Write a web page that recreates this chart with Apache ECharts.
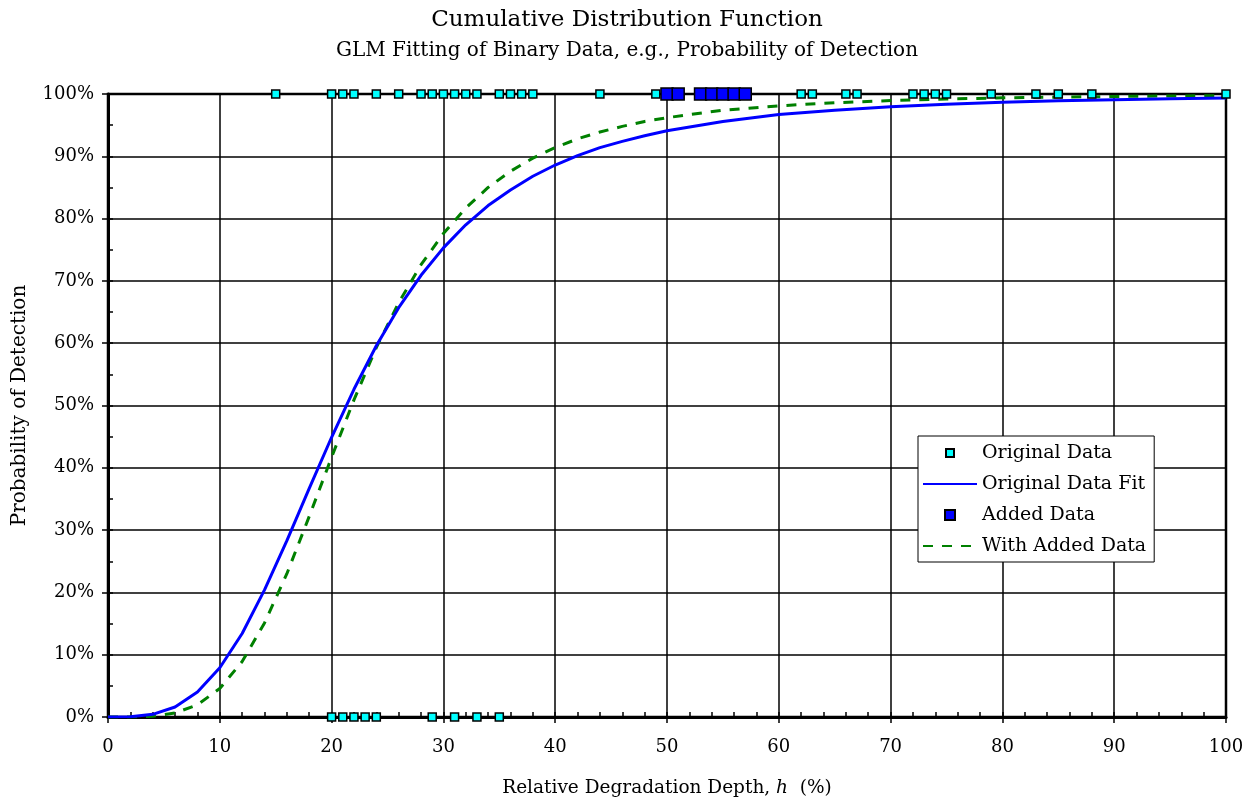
<!DOCTYPE html>
<html><head><meta charset="utf-8">
<script src="https://cdn.jsdelivr.net/npm/echarts@6/dist/echarts.min.js"></script>
<style>html,body{margin:0;padding:0;background:#fff}#c{width:1254px;height:803px}</style>
</head><body><div id="c"></div>
<script>
// Fitted curves (h in %, probability in %)
const fitH = [0,2,4,6,8,10,12,14,16,18,20,22,24,26,28,30,32,34,36,38,40,42,44,46,48,50,55,60,65,70,75,80,85,90,95,100];
const origFit = [0,0.05,0.43,1.6,4.0,7.9,13.4,20.4,28.3,36.7,44.9,52.6,59.6,65.7,70.9,75.3,79.0,82.1,84.6,86.8,88.6,90.1,91.4,92.4,93.3,94.1,95.6,96.7,97.4,97.95,98.36,98.66,98.9,99.08,99.23,99.35];
const addedFit = [0,0.01,0.13,0.65,1.96,4.57,8.9,15.1,23.0,32.2,41.7,50.9,59.3,66.5,72.6,77.6,81.7,85.0,87.6,89.7,91.4,92.8,93.9,94.8,95.6,96.2,97.4,98.1,98.6,98.95,99.2,99.38,99.51,99.6,99.68,99.74];
// Binary observations (h values)
const origDetected = [15,20,21,22,24,26,28,29,30,31,32,33,35,36,37,38,44,49,62,63,66,67,72,73,74,75,79,83,85,88,100];
const origMissed = [20,21,22,23,24,29,31,33,35];
const addedDetected = [50,51,53,54,55,56,57];
const xTicks = [0,10,20,30,40,50,60,70,80,90,100];

const FONT = 'DejaVu Serif';
const chart = echarts.init(document.getElementById('c'), null, {renderer:'canvas'});
const pair = (xs, ys) => xs.map((x,i)=>[x, ys[i]]);
chart.setOption({
  animation:false,
  backgroundColor:'#fff',
  textStyle:{fontFamily:FONT,color:'#000'},
  title:[
    {text:'Cumulative Distribution Function', left:'center', top:4, textStyle:{fontFamily:FONT,fontWeight:'normal',fontSize:23,color:'#000'}},
    {text:'GLM Fitting of Binary Data, e.g., Probability of Detection', left:'center', top:36, textStyle:{fontFamily:FONT,fontWeight:'normal',fontSize:20,color:'#000'}}
  ],
  grid:{left:108,right:28,top:94,bottom:86,show:true,borderColor:'#000',borderWidth:2.5,backgroundColor:'transparent'},
  legend:{
    orient:'vertical', left:918, top:436, padding:[6,8,5,4], itemGap:9,
    itemWidth:54, itemHeight:10,
    borderColor:'#000', borderWidth:1, backgroundColor:'#fff', borderRadius:0,
    textStyle:{fontFamily:FONT,fontSize:19,color:'#000',lineHeight:22},
    data:[
      {name:'Original Data', icon:'path://M0,0M54,10M23,1H31V9H23Z'},
      {name:'Original Data Fit', itemStyle:{opacity:0}},
      {name:'Added Data', icon:'path://M0,0M54,10M21,-1H33V11H21Z'},
      {name:'With Added Data', itemStyle:{opacity:0}}
    ]
  },
  xAxis:[
    {type:'value',min:0,max:100,interval:10,position:'bottom',
     name:'Relative Degradation Depth, {i|h}  (%)',nameLocation:'middle',nameGap:62,
     nameTextStyle:{fontFamily:FONT,fontSize:18.5,color:'#000',rich:{i:{fontFamily:FONT,fontStyle:'italic',fontSize:18.5}}},
     axisLine:{show:true,lineStyle:{color:'#000',width:3}},
     axisTick:{show:true,inside:false,length:6,lineStyle:{color:'#000',width:1.5}},
     axisLabel:{margin:21,fontFamily:FONT,fontSize:18,color:'#000',formatter:v=>xTicks.includes(v)?String(v):''},
     splitLine:{show:true,lineStyle:{color:'#000',width:1.5}}},
    {type:'value',min:0,max:100,interval:2,position:'bottom',
     axisLine:{show:false},axisTick:{show:true,inside:true,length:5,lineStyle:{color:'#000',width:1.5}},
     axisLabel:{show:false},splitLine:{show:false}}
  ],
  yAxis:[
    {type:'value',min:0,max:100,interval:10,position:'left',
     name:'Probability of Detection',nameLocation:'middle',nameGap:78,
     nameTextStyle:{fontFamily:FONT,fontSize:20,color:'#000'},
     axisLine:{show:true,lineStyle:{color:'#000',width:3}},
     axisTick:{show:true,inside:false,length:6,lineStyle:{color:'#000',width:1.5}},
     axisLabel:{margin:14,fontFamily:FONT,fontSize:18,color:'#000',formatter:v=>v+'%'},
     splitLine:{show:true,lineStyle:{color:'#000',width:1.5}}},
    {type:'value',min:0,max:100,interval:5,position:'left',
     axisLine:{show:false},axisTick:{show:true,inside:true,length:5,lineStyle:{color:'#000',width:1.5}},
     axisLabel:{show:false},splitLine:{show:false}}
  ],
  series:[
    {name:'With Added Data',type:'line',data:pair(fitH,addedFit),symbol:'none',smooth:false,z:3,
     lineStyle:{color:'#008000',width:3,type:[10,9]},itemStyle:{color:'#008000'}},
    {name:'Original Data Fit',type:'line',data:pair(fitH,origFit),symbol:'none',smooth:false,z:4,
     lineStyle:{color:'#0000ff',width:3},itemStyle:{color:'#0000ff'}},
    {name:'Original Data',type:'scatter',symbol:'rect',symbolSize:8,clip:false,z:6,
     data:origDetected.map(h=>[h,100]).concat(origMissed.map(h=>[h,0])),
     itemStyle:{color:'#00ffff',borderColor:'#000',borderWidth:1.5,opacity:1}},
    {name:'Added Data',type:'scatter',symbol:'rect',symbolSize:12,clip:false,z:7,
     data:addedDetected.map(h=>[h,100]),
     itemStyle:{color:'#0000ff',borderColor:'#000',borderWidth:1.5,opacity:1}}
  ]
});
</script></body></html>
